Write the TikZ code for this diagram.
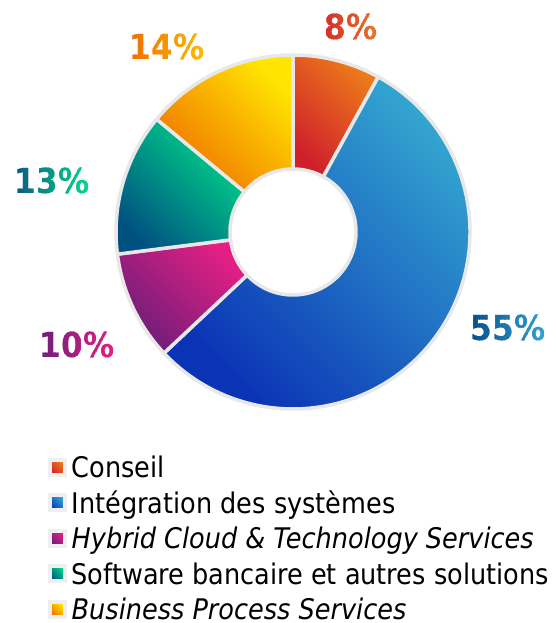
\documentclass[tikz,border=0pt]{standalone}
\usepackage{fontspec}
\setmainfont{DejaVu Sans}[FakeStretch=0.9]
\definecolor{gborder}{HTML}{E8E8E8}
\definecolor{lborder}{HTML}{EFEFEF}
\definecolor{cA1}{HTML}{CF1F2C}\definecolor{cA2}{HTML}{EE7C1A}
\definecolor{cB1}{HTML}{0B33B5}\definecolor{cB2}{HTML}{34A8D0}
\definecolor{cC1}{HTML}{6B1E78}\definecolor{cC2}{HTML}{E41F84}
\definecolor{cD1}{HTML}{005080}\definecolor{cD2}{HTML}{00D98A}
\definecolor{cE1}{HTML}{F07000}\definecolor{cE2}{HTML}{FFE500}
\definecolor{tA1}{HTML}{D42A2A}\definecolor{tA2}{HTML}{E8782A}
\definecolor{tB1}{HTML}{0B4F8A}\definecolor{tB2}{HTML}{30A2D2}
\definecolor{tC1}{HTML}{6E1E7A}\definecolor{tC2}{HTML}{E21F84}
\definecolor{tD1}{HTML}{0B5A80}\definecolor{tD2}{HTML}{00D98A}
\definecolor{tE1}{HTML}{F07000}\definecolor{tE2}{HTML}{FFB800}
\tikzset{
  pctfont/.style={font=\fontsize{34.5bp}{40bp}\selectfont\bfseries, inner sep=0pt},
  slicestyle/.style={draw=gborder, line width=3.5bp, line join=round},
  legsq/.style={minimum size=15bp, inner sep=0pt, draw=lborder, line width=4bp},
  legtext/.style={font=\fontsize{28.4bp}{32bp}\selectfont, inner sep=0pt, anchor=base west, text=black}
}
\newcommand\donutslice[4]{%
  \shadedraw[slicestyle, bottom color=#3, top color=#4, shading angle=-45]
    (#1:177) arc[start angle=#1, end angle=#2, radius=177]
    -- (#2:63) arc[start angle=#2, end angle=#1, radius=63] -- cycle;}
% gradient label: name, x, y, text, left colour, right colour, half width
\newcommand\gradlabel[7]{%
  \foreach \k in {0,...,23}{%
    \pgfmathsetmacro\pmix{100-\k*100/23}%
    \begin{scope}
      \clip (#2-#7+\k*#7/12,#3-25) rectangle (#2-#7+\k*#7/12+#7/12+0.3,#3+25);
      \node[pctfont, text=#5!\pmix!#6] (#1-\k) at (#2,#3) {#4};
    \end{scope}}}
\begin{document}
\begin{tikzpicture}[x=1bp,y=1bp]
\fill[white] (0,0) rectangle (556,623);
\useasboundingbox (0,0) rectangle (556,623);
% donut
\begin{scope}[shift={(293,391)}]
  \coordinate (C) at (0,0);
  \donutslice{90}{61.2}{cA1}{cA2}
  \donutslice{61.2}{-136.8}{cB1}{cB2}
  \donutslice{-136.8}{-172.8}{cC1}{cC2}
  \donutslice{-172.8}{-219.6}{cD1}{cD2}
  \donutslice{-219.6}{-270}{cE1}{cE2}
\end{scope}
% percentage labels
\gradlabel{lA}{351}{596}{8\%}{tA1}{tA2}{30}
\gradlabel{lB}{508}{295}{55\%}{tB1}{tB2}{38}
\gradlabel{lC}{77}{278}{10\%}{tC1}{tC2}{38}
\gradlabel{lD}{52}{442}{13\%}{tD1}{tD2}{38}
\gradlabel{lE}{167}{576}{14\%}{tE1}{tE2}{38}
% legend
\node[legsq, bottom color=cA1, top color=cA2, shading angle=-45] (s1) at (57,155.5) {};
\node[legsq, bottom color=cB1, top color=cB2, shading angle=-45] (s2) at (57,120) {};
\node[legsq, bottom color=cC1, top color=cC2, shading angle=-45] (s3) at (57,84.5) {};
\node[legsq, bottom color=cD1, top color=cD2, shading angle=-45] (s4) at (57,49) {};
\node[legsq, bottom color=cE1, top color=cE2, shading angle=-45] (s5) at (57,13.5) {};
\node[legtext] (t1) at (71.5,145) {Conseil};
\node[legtext] (t2) at (71.5,109.5) {Intégration des systèmes};
\node[legtext] (t3) at (71.5,74) {\itshape Hybrid Cloud \& Technology Services};
\node[legtext] (t4) at (71.5,38.5) {Software bancaire et autres solutions};
\node[legtext] (t5) at (71.5,3.5) {\itshape Business Process Services};
\end{tikzpicture}
\end{document}
